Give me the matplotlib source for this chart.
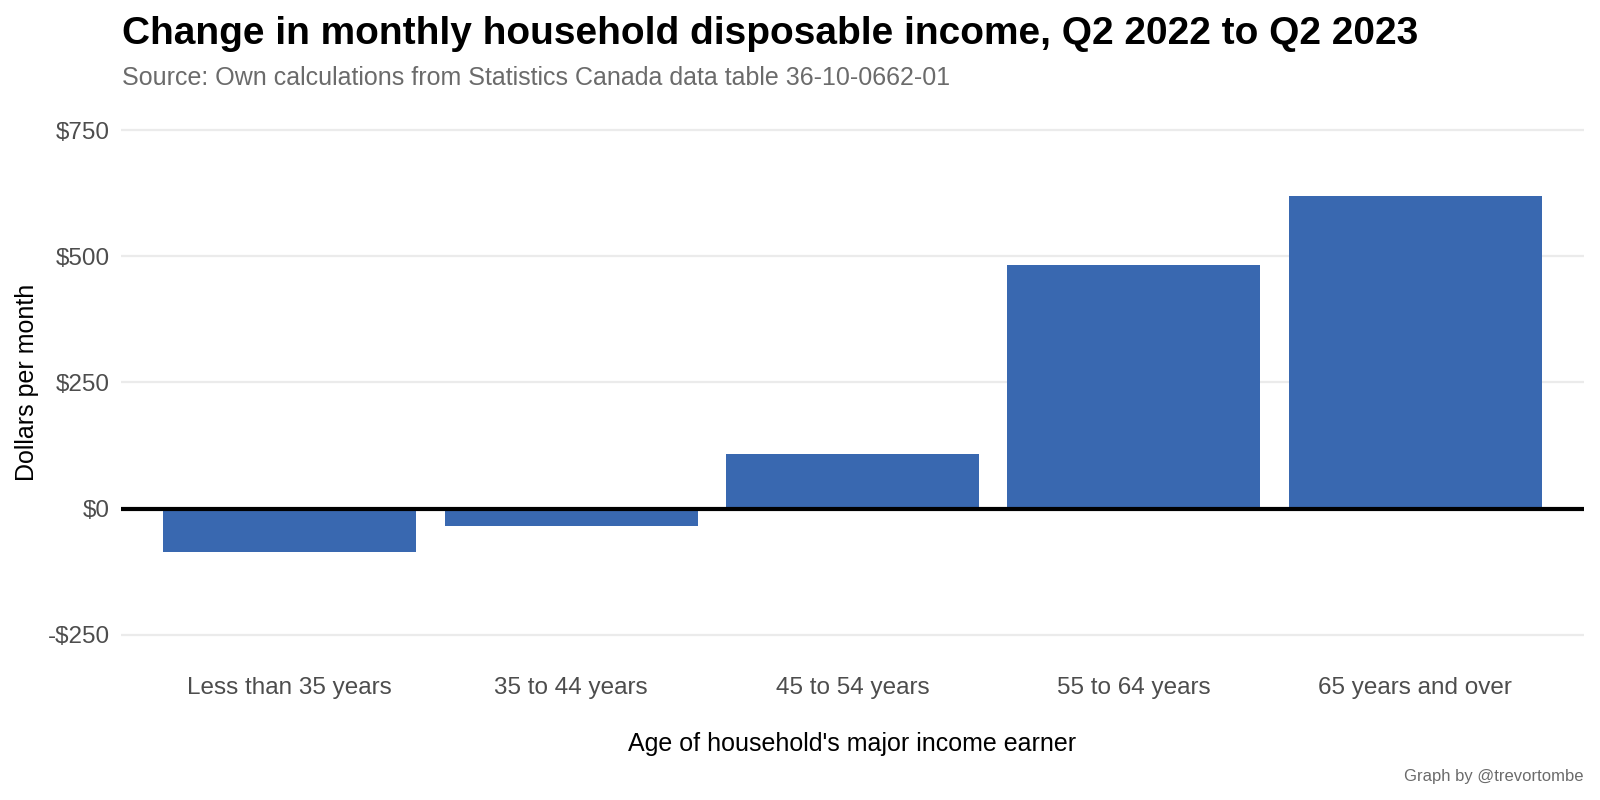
import matplotlib
matplotlib.use("Agg")
import matplotlib.pyplot as plt
from matplotlib.ticker import FuncFormatter

plt.rcParams['font.family'] = ['Liberation Sans', 'DejaVu Sans']

categories = ["Less than 35 years", "35 to 44 years", "45 to 54 years",
              "55 to 64 years", "65 years and over"]
values = [-87, -34, 108, 483, 619]
yticks = [-250, 0, 250, 500, 750]

fig = plt.figure(figsize=(16, 8), dpi=100)
ax = fig.add_axes([0.0756, 0.175, 0.9144, 0.694])

x = list(range(len(categories)))
ax.bar(x, values, width=0.9, color="#3968B0", zorder=2)
ax.axhline(0, color="black", linewidth=3, zorder=3)

ax.set_xlim(-0.6, len(categories) - 0.4)
ax.set_ylim(-300, 800)
ax.set_yticks(yticks)
ax.yaxis.set_major_formatter(FuncFormatter(lambda v, p: f"-${abs(int(v))}" if v < 0 else f"${int(v)}"))
ax.set_xticks(x)
ax.set_xticklabels(categories)

ax.grid(axis="y", color="#EBEBEB", linewidth=1.6, zorder=0)
ax.grid(axis="x", visible=False)
for s in ax.spines.values():
    s.set_visible(False)
ax.tick_params(axis="both", length=0, labelsize=17.5, labelcolor="#4D4D4D")
ax.tick_params(axis="x", pad=12)
ax.tick_params(axis="y", pad=8)

ax.set_xlabel("Age of household's major income earner", fontsize=18, color="black", labelpad=24)
ax.set_ylabel("Dollars per month", fontsize=18, color="black", labelpad=6)

fig.text(0.076, 0.958, "Change in monthly household disposable income, Q2 2022 to Q2 2023",
         fontsize=28, fontweight="bold", ha="left", va="center", color="black")
fig.text(0.076, 0.902, "Source: Own calculations from Statistics Canada data table 36-10-0662-01",
         fontsize=18, ha="left", va="center", color="#6B6B6B")
fig.text(0.99, 0.03, "Graph by @trevortombe", fontsize=12, ha="right", va="center", color="#6B6B6B")

fig.savefig("out.png", dpi=100, facecolor="white")
